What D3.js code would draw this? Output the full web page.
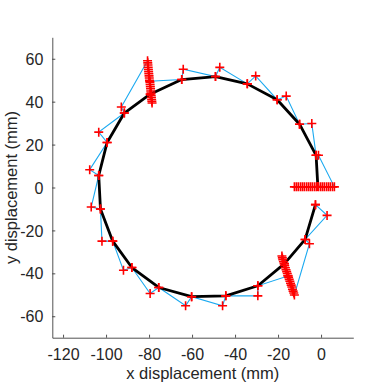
<!DOCTYPE html>
<html>
<head>
<meta charset="utf-8">
<script src="https://cdn.jsdelivr.net/npm/d3@7"></script>
<style>
  html, body { margin: 0; padding: 0; background: #fff; }
  svg { display: block; font-family: 'Liberation Sans', Arial, sans-serif; }
</style>
</head>
<body>
<svg id="chart" width="390" height="390"></svg>
<script>
// target path (black), starting just below the right-hand sweep, going clockwise
var targetX = [-2.6, -7.4, -17.0, -29.4, -44.3, -60.2, -75.5, -88.0, -96.9, -102.6, -103.4,
  -99.5, -91.5, -79.5, -64.8, -49.1, -34.3, -20.4, -10.0, -2.3, -1.5]
var targetY = [-8.0, -24.2, -35.5, -45.8, -50.5, -50.9, -46.6, -37.3, -25.0, -10.0, 5.6,
  21.0, 34.7, 43.5, 50.3, 51.7, 48.3, 40.9, 29.5, 15.0, 0.5]

// measured path (blue), the three dense sweeps included
var measuredX = [-2.6, 2.8, -7.4, -5.4,
  -12.4, -12.7, -13.0, -13.3, -13.6, -13.9, -14.2, -14.5, -14.8, -15.1, -15.4,
  -15.7, -16.0, -16.3, -16.6, -16.9, -17.2, -17.5, -17.8, -18.0, -18.2, -15.4,
  -29.4, -29.4, -44.3, -45.8, -60.2, -63.0, -75.5, -79.5, -88.0, -91.9, -96.9,
  -101.9, -102.6, -106.9, -103.4, -107.6, -99.5, -103.4, -91.5, -92.9,
  -80.7, -80.6, -80.5, -80.4, -80.3, -80.2, -80.1, -80.0, -79.9, -79.8, -79.6,
  -79.5, -79.4, -79.3, -79.2, -79.1, -79.0, -78.9, -78.8, -78.7, -78.6, -79.7,
  -64.8, -64.1, -49.1, -47.1, -34.3, -30.4, -20.4, -16.2, -10.0, -4.3, -2.3, -1.2,
  6.2, 5.3, 4.3, 3.4, 2.5, 1.5, 0.6, -0.3, -1.3, -2.2, -3.1, -4.1, -5.0, -5.9,
  -6.8, -7.8, -8.7, -9.6, -10.6, -11.5, -12.4]
var measuredY = [-8.0, -13.0, -24.2, -26.2,
  -50.1, -49.2, -48.3, -47.4, -46.4, -45.5, -44.6, -43.7, -42.8, -41.9, -41.0,
  -40.1, -39.2, -38.3, -37.4, -36.4, -35.5, -34.6, -33.7, -32.8, -31.9, -41.2,
  -45.8, -50.5, -50.5, -55.1, -50.9, -55.1, -46.6, -49.4, -37.3, -38.6, -25.0,
  -25.0, -10.0, -9.1, 5.6, 8.3, 21.0, 25.8, 34.7, 37.5,
  59.1, 58.1, 57.1, 56.0, 55.0, 54.0, 53.0, 52.0, 51.0, 50.0, 49.0,
  48.0, 47.0, 46.0, 45.0, 44.0, 43.0, 42.0, 41.0, 40.2, 39.4, 49.5,
  50.3, 55.1, 51.7, 56.0, 48.3, 52.0, 40.9, 42.6, 29.5, 29.8, 15.0, 15.0,
  0.3, 0.3, 0.3, 0.3, 0.3, 0.3, 0.3, 0.3, 0.3, 0.3, 0.3, 0.3, 0.3, 0.3,
  0.3, 0.3, 0.3, 0.3, 0.3, 0.3, 0.3]

var xTicks = [-120, -100, -80, -60, -40, -20, 0]
var yTicks = [-60, -40, -20, 0, 20, 40, 60]
var xLabel = 'x displacement (mm)'
var yLabel = 'y displacement (mm)'

var svg = d3.select('#chart')
var plotLeft = 52.3
var plotRight = 353.3
var plotTop = 37.3
var plotBottom = 337.7

var x = d3.scaleLinear().domain([-125, 15]).range([plotLeft, plotRight])
var y = d3.scaleLinear().domain([-70, 70]).range([plotBottom, plotTop])

var target = targetX.map((v, i) => [v, targetY[i]])
var measured = measuredX.map((v, i) => [v, measuredY[i]])

var line = d3.line()
  .x((d) => x(d[0]))
  .y((d) => y(d[1]))

var axisColor = '#262626'
var fmt = (d) => String(d) // plain hyphen minus, like the original

var xAxis = svg.append('g')
  .attr('transform', 'translate(0,' + plotBottom + ')')
  .call(d3.axisBottom(x).tickValues(xTicks).tickFormat(fmt).tickSizeInner(-3).tickSizeOuter(0).tickPadding(0))
var yAxis = svg.append('g')
  .attr('transform', 'translate(' + plotLeft + ',0)')
  .call(d3.axisLeft(y).tickValues(yTicks).tickFormat(fmt).tickSizeInner(-3).tickSizeOuter(0).tickPadding(0))

;[xAxis, yAxis].forEach(function (ax) {
  ax.select('.domain').attr('stroke', axisColor).attr('stroke-width', 0.8)
  ax.selectAll('.tick line').attr('stroke', axisColor).attr('stroke-width', 0.8)
  ax.selectAll('.tick text')
    .attr('fill', axisColor)
    .attr('font-size', 16)
    .attr('font-family', "'Liberation Sans', Arial, sans-serif")
})
xAxis.selectAll('.tick text').attr('y', 22).attr('dy', null)
yAxis.selectAll('.tick text').attr('x', -9).attr('dy', '0.35em')

svg.append('path')
  .datum(measured)
  .attr('fill', 'none')
  .attr('stroke', '#1aa9f0')
  .attr('stroke-width', 1.1)
  .attr('d', line)

svg.append('path')
  .datum(target)
  .attr('fill', 'none')
  .attr('stroke', '#000')
  .attr('stroke-width', 2.8)
  .attr('stroke-linejoin', 'round')
  .attr('d', line)

svg.append('g')
  .selectAll('path')
  .data(measured.concat(target))
  .join('path')
  .attr('transform', (d) => 'translate(' + x(d[0]) + ',' + y(d[1]) + ')')
  .attr('d', 'M-4.5,0H4.5M0,-4.5V4.5')
  .attr('stroke', '#ff0000')
  .attr('stroke-width', 1.6)

svg.append('text')
  .attr('x', (plotLeft + plotRight) / 2)
  .attr('y', 379)
  .attr('text-anchor', 'middle')
  .attr('font-size', 16.5)
  .attr('fill', axisColor)
  .text(xLabel)

svg.append('text')
  .attr('transform', 'translate(16.5,' + (plotTop + plotBottom) / 2 + ') rotate(-90)')
  .attr('text-anchor', 'middle')
  .attr('font-size', 16.5)
  .attr('fill', axisColor)
  .text(yLabel)
</script>
</body>
</html>
